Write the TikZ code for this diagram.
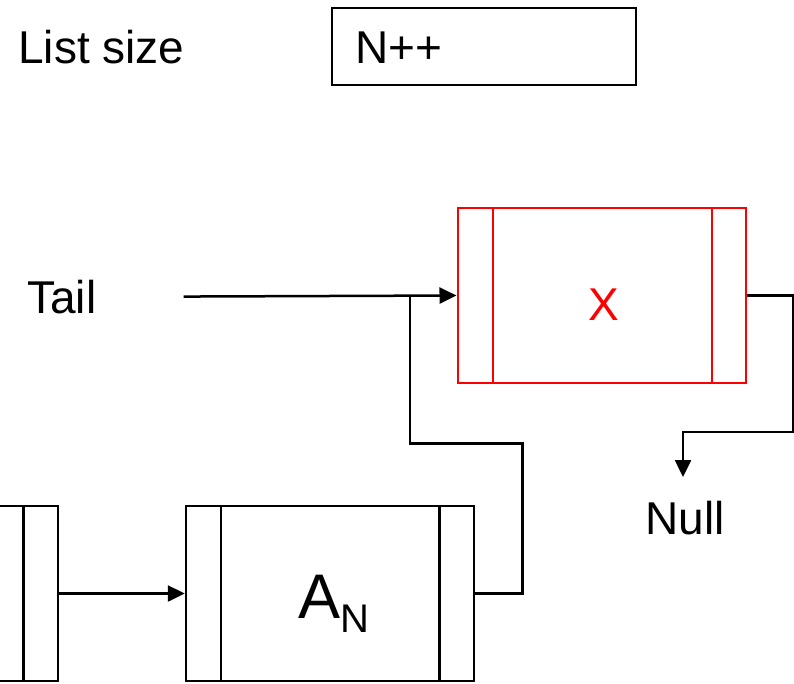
\documentclass[tikz,border=0pt]{standalone}
\usepackage{fontspec}
\setmainfont{Liberation Sans}
\usetikzlibrary{arrows.meta}

\begin{document}
\begin{tikzpicture}[x=1pt,y=-1pt,line width=2.5pt,
  cell/.style={draw,rectangle,inner sep=0pt,minimum width=288pt,minimum height=175pt},
  lbl/.style={inner sep=0pt,anchor=base west,font=\fontsize{46}{52}\selectfont},
  tip/.style={-{Triangle[length=17pt 0,width=16pt 0]}}]
\useasboundingbox (0,0) rectangle (794,683);
\clip (0,0) rectangle (794,683);
% counter
\node[lbl] (size) at (17,63) {List size};
\draw (332,8) rectangle (636,85);
\node[lbl] (count) at (354,63) {N++};
% new element
\node[lbl] (tail) at (26,313) {Tail};
\node[cell,red,line width=2pt] (x) at (601.5,295.5) {};
\draw[red,line width=2pt] ([xshift=36pt]x.north west) -- ([xshift=36pt]x.south west);
\draw[red,line width=2pt] ([xshift=-35pt]x.north east) -- ([xshift=-35pt]x.south east);
\node[red,font=\fontsize{46}{52}\selectfont,inner sep=0pt,anchor=base] (xlbl) at (604,320) {X};
\node[lbl] (null) at (644,534) {Null};
\coordinate (nullin) at (683,477);
% old tail
\node[cell] (an) at (330,593.5) {};
\draw ([xshift=36pt]an.north west) -- ([xshift=36pt]an.south west);
\draw ([xshift=-36pt]an.north east) -- ([xshift=-36pt]an.south east);
\node[inner sep=0pt,anchor=base west] (anlbl) at (297,618)
  {\fontsize{63}{70}\selectfont A\raisebox{-14pt}{\fontsize{40}{44}\selectfont N}};
\node[cell] (prev) at (-86,593.5) {};
\draw ([xshift=-36pt]prev.north east) -- ([xshift=-36pt]prev.south east);
% links
\draw[tip] ([xshift=86pt]tail.east) -- (x.west);
\draw (an.east) -- ++(47,0) -- ++(0,-150) -| (410,296);
\draw[tip] (x.east) -- ++(47,0) |- (683,432) -- (nullin);
\draw[tip] (prev.east) -- (an.west);
\end{tikzpicture}
\end{document}
